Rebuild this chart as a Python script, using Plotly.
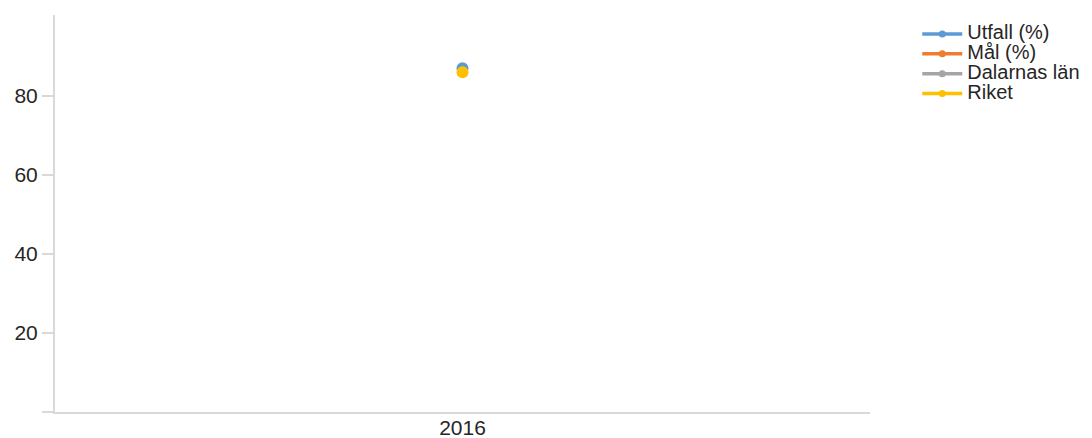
import plotly.graph_objects as go

categories = ["2016"]
utfall = [87.0]
mal = [None]
dalarna = [None]
riket = [86.0]

series = [
    ("Utfall (%)", utfall, "#5B9BD5"),
    ("Mål (%)", mal, "#ED7D31"),
    ("Dalarnas län", dalarna, "#A5A5A5"),
    ("Riket", riket, "#FFC000"),
]

y_ticks = [0, 20, 40, 60, 80]
y_ticktext = ["", "20", "40", "60", "80"]

fig = go.Figure()
for name, vals, color in series:
    fig.add_trace(go.Scatter(
        x=categories, y=vals, name=name, mode="lines+markers",
        line=dict(color=color, width=3),
        marker=dict(color=color, size=12),
        showlegend=False,
    ))
for name, vals, color in series:
    fig.add_trace(go.Scatter(
        x=[None], y=[None], name="<span style='font-size:20px'>" + name + "</span>",
        mode="lines+markers",
        line=dict(color=color, width=3.5),
        marker=dict(color=color, size=7),
        showlegend=True,
    ))

fig.update_layout(
    width=1084, height=430,
    margin=dict(l=47, r=222, t=7, b=26),
    paper_bgcolor="white", plot_bgcolor="white",
    font=dict(family="Liberation Sans, Arial, sans-serif", size=21, color="#262626"),
    showlegend=True,
    legend=dict(x=1.058, y=0.99, xanchor="left", yanchor="top",
                font=dict(size=13), bgcolor="rgba(0,0,0,0)", tracegroupgap=0,
                itemwidth=40),
)
fig.update_xaxes(
    type="category", range=[-1, 1], showgrid=False, zeroline=False,
    showline=True, linecolor="#d9d9d9", linewidth=2, ticks="",
    tickfont=dict(size=21), automargin=False, ticklabelstandoff=-4,
)
fig.update_yaxes(
    range=[0, 100.5], tickvals=y_ticks, ticktext=y_ticktext,
    showgrid=False, zeroline=False, showline=True, linecolor="#d9d9d9",
    linewidth=2, ticks="outside", ticklen=11, tickcolor="#d9d9d9", tickwidth=2,
    automargin=False,
)
fig.write_html("out.html")
